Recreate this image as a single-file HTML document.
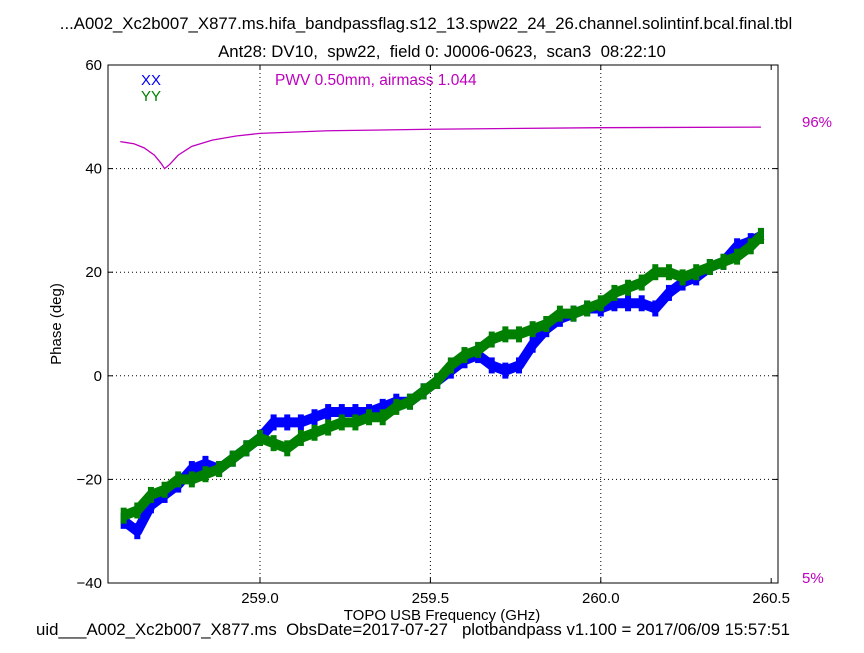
<!DOCTYPE html>
<html><head><meta charset="utf-8"><style>
body{margin:0;background:#fff;}
svg text{font-family:"Liberation Sans",sans-serif;white-space:pre;}
</style></head><body>
<svg id="chart" width="864" height="648" xmlns="http://www.w3.org/2000/svg" xml:space="preserve">
<rect width="864" height="648" fill="#fff"/>
<text x="426" y="29" font-size="16.8" text-anchor="middle">...A002_Xc2b007_X877.ms.hifa_bandpassflag.s12_13.spw22_24_26.channel.solintinf.bcal.final.tbl</text>
<text x="442" y="57" font-size="16.8" text-anchor="middle">Ant28: DV10,  spw22,  field 0: J0006-0623,  scan3  08:22:10</text>
<g id="grid"></g>
<g id="series"></g>
<rect x="108" y="65" width="670" height="518" fill="none" stroke="#000" stroke-width="1"/>
<g id="ticks"></g>
<text x="141" y="85" font-size="15" fill="#0000ff">XX</text>
<text x="141" y="101" font-size="15" fill="#008000">YY</text>
<text x="275" y="85" font-size="15.5" fill="#bf00bf">PWV 0.50mm, airmass 1.044</text>
<text x="802" y="127" font-size="15" fill="#bf00bf">96%</text>
<text x="802" y="583" font-size="15" fill="#bf00bf">5%</text>
<text x="0" y="0" font-size="15" text-anchor="middle" transform="translate(61,324) rotate(-90)">Phase (deg)</text>
<text x="442" y="620" font-size="15" text-anchor="middle">TOPO USB Frequency (GHz)</text>
<text x="413" y="635" font-size="16.8" text-anchor="middle">uid___A002_Xc2b007_X877.ms  ObsDate=2017-07-27   plotbandpass v1.100 = 2017/06/09 15:57:51</text>
</svg>
<script>
const freqs=[258.60,258.64,258.68,258.72,258.76,258.80,258.84,258.88,258.92,258.96,259.00,259.04,259.08,259.12,259.16,259.20,259.24,259.28,259.32,259.36,259.40,259.44,259.48,259.52,259.56,259.60,259.64,259.68,259.72,259.76,259.80,259.84,259.88,259.92,259.96,260.00,260.04,260.08,260.12,260.16,260.20,260.24,260.28,260.32,260.36,260.40,260.44,260.47];
const xxPhase=[-28,-30,-25,-23,-21,-18,-17,-18,-16,-14,-12,-9,-9,-9,-8,-7,-7,-7,-7,-6,-5,-5,-3,-1,1,3,4,2,1,2,6,9,11,12,13,13,14,14,14,13,16,18,19,21,22,25,26,27];
const yyPhase=[-27,-26,-23,-22,-20,-20,-19,-18,-16,-14,-12,-13,-14,-12,-11,-10,-9,-9,-8,-8,-6,-5,-3,-1,2,4,5,7,8,8,9,10,12,12,13,14,16,17,18,20,20,19,20,21,22,23,25,27];
const pwvFreqs=[258.59,258.63,258.66,258.69,258.71,258.72,258.735,258.76,258.80,258.86,258.93,259.00,259.20,259.50,260.00,260.47];
const pwvCurve=[45.2,44.8,44.0,42.6,41.0,40.0,40.8,42.6,44.3,45.5,46.3,46.8,47.3,47.6,47.9,48.0];
const xTicks=[259.0,259.5,260.0,260.5];
const xTickLabels=["259.0","259.5","260.0","260.5"];
const yTicks=[-40,-20,0,20,40,60];
const yTickLabels=["\u221240","\u221220","0","20","40","60"];
const X0=108,X1=778,Y0=65,Y1=583,FMIN=258.554,FMAX=260.52,VMIN=-40,VMAX=60;
function sx(f){return X0+(f-FMIN)/(FMAX-FMIN)*(X1-X0);}
function sy(v){return Y1-(v-VMIN)/(VMAX-VMIN)*(Y1-Y0);}
const NS="http://www.w3.org/2000/svg";
function mk(t,a,p){const e=document.createElementNS(NS,t);for(const k in a)e.setAttribute(k,a[k]);p.appendChild(e);return e;}
const grid=document.getElementById('grid'),ticks=document.getElementById('ticks'),series=document.getElementById('series');
xTicks.forEach((f,i)=>{const x=sx(f);
 if(x<X1-12){const g=mk('line',{x1:x,y1:Y0,x2:x,y2:Y1,stroke:'#000','stroke-dasharray':'1,3'},grid);
 
 }
 mk('line',{x1:x,y1:Y1,x2:x,y2:Y1-5,stroke:'#000'},ticks);
 mk('line',{x1:x,y1:Y0,x2:x,y2:Y0+5,stroke:'#000'},ticks);
 const t=mk('text',{x:x,y:Y1+20,'font-size':15,'text-anchor':'middle'},ticks);t.textContent=xTickLabels[i];
 
 
});
yTicks.forEach((v,i)=>{const y=sy(v);
 if(v>VMIN&&v<VMAX){const g=mk('line',{x1:X0,y1:y,x2:X1,y2:y,stroke:'#000','stroke-dasharray':'1,3'},grid);
 
 }
 mk('line',{x1:X0,y1:y,x2:X0+5,y2:y,stroke:'#000'},ticks);
 mk('line',{x1:X1,y1:y,x2:X1-5,y2:y,stroke:'#000'},ticks);
 const t=mk('text',{x:X0-6,y:y+5,'font-size':15,'text-anchor':'end'},ticks);t.textContent=yTickLabels[i];
 
 
});
function drawSeries(vals,color,name){
 const pts=freqs.map((f,i)=>sx(f)+','+sy(vals[i])).join(' ');
 const pl=mk('polyline',{points:pts,fill:'none',stroke:color,'stroke-width':10,'stroke-linejoin':'round'},series);
 
 
 freqs.forEach((f,i)=>{const r=mk('rect',{x:sx(f)-3,y:sy(vals[i])-8,width:6,height:16,fill:color},series);
  
  });
}
drawSeries(xxPhase,'#0000ff','xx-phase-series');
drawSeries(yyPhase,'#008000','yy-phase-series');
const pw=mk('polyline',{points:pwvFreqs.map((f,i)=>sx(f)+','+sy(pwvCurve[i])).join(' '),fill:'none',stroke:'#bf00bf','stroke-width':1.3},series);


</script>
</body></html>
